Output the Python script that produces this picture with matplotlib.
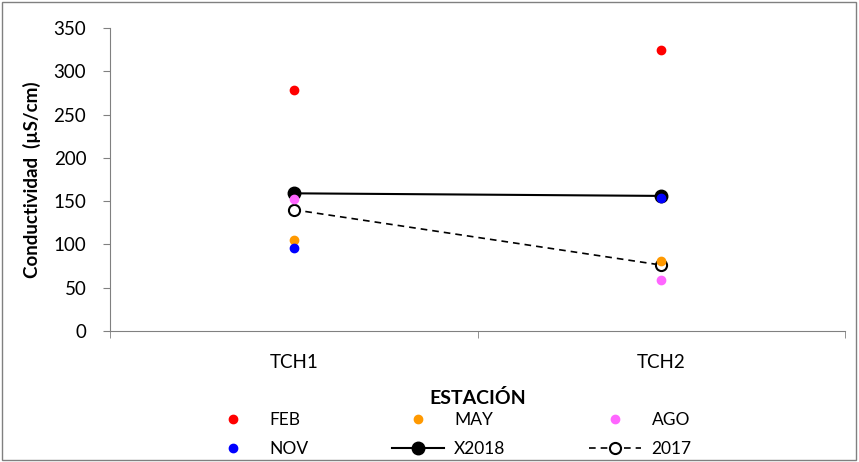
import numpy as np
import matplotlib.pyplot as plt
from matplotlib.patches import Rectangle

plt.rcParams['font.family'] = ['Lato', 'DejaVu Sans']

estaciones = ['TCH1', 'TCH2']
feb = [279, 325]
may = [105, 81]
ago = [152, 59]
nov = [96, 154]
x2018 = [159, 156]
y2017 = [140, 76]

fig = plt.figure(figsize=(8.59, 4.62), dpi=100)
ax = fig.add_axes([0.128, 0.284, 0.856, 0.655])
x = np.arange(len(estaciones))

ax.plot(x, x2018, color='black', lw=1.5, marker='o', ms=9, mfc='black', mec='black', label='X2018', zorder=3)
ax.plot(x, y2017, color='black', lw=1.2, ls=(0, (4, 3)), marker='o', ms=8, mfc='white', mec='black', mew=1.5, label='2017', zorder=3)
ax.plot(x, feb, 'o', color='#ff0000', ms=6, label='FEB', zorder=4)
ax.plot(x, may, 'o', color='#ff9900', ms=6, label='MAY', zorder=4)
ax.plot(x, ago, 'o', color='#ff66ff', ms=6, label='AGO', zorder=4)
ax.plot(x, nov, 'o', color='#0000ff', ms=6, label='NOV', zorder=4)

ax.set_xlim(-0.5, 1.5)
ax.set_ylim(0, 350)
ax.set_yticks(range(0, 351, 50))
ax.set_xticks(x)
ax.set_xticklabels(estaciones)
ax.set_xticks([-0.5, 0.5, 1.5], minor=True)
ax.tick_params(axis='x', which='major', length=0, pad=17, labelsize=13.5)
ax.tick_params(axis='x', which='minor', length=5, direction='out')
ax.tick_params(axis='y', length=5, direction='out', labelsize=13.5, pad=12)
for s in ['top', 'right']:
    ax.spines[s].set_visible(False)
ax.spines['left'].set_color('#808080')
ax.spines['bottom'].set_color('#808080')
ax.tick_params(which='both', color='#808080')

ax.set_ylabel('Conductividad  (µS/cm)', fontsize=13.5, fontweight='bold', labelpad=9)
ax.set_xlabel('ESTACIÓN', fontsize=14, fontweight='bold', labelpad=13)

h, l = ax.get_legend_handles_labels()
d = dict(zip(l, h))
order = ['FEB', 'NOV', 'MAY', 'X2018', 'AGO', '2017']
leg = fig.legend([d[k] for k in order], order, ncol=3, loc='center',
                 bbox_to_anchor=(0.523, 0.059), frameon=False, fontsize=12.5,
                 handlelength=3.0, columnspacing=4.8, handletextpad=0.6, labelspacing=0.75)

fig.patches.append(Rectangle((0.002, 0.004), 0.995, 0.992, transform=fig.transFigure,
                             fill=False, ec='#808080', lw=1))

fig.savefig('out.png', dpi=100)
